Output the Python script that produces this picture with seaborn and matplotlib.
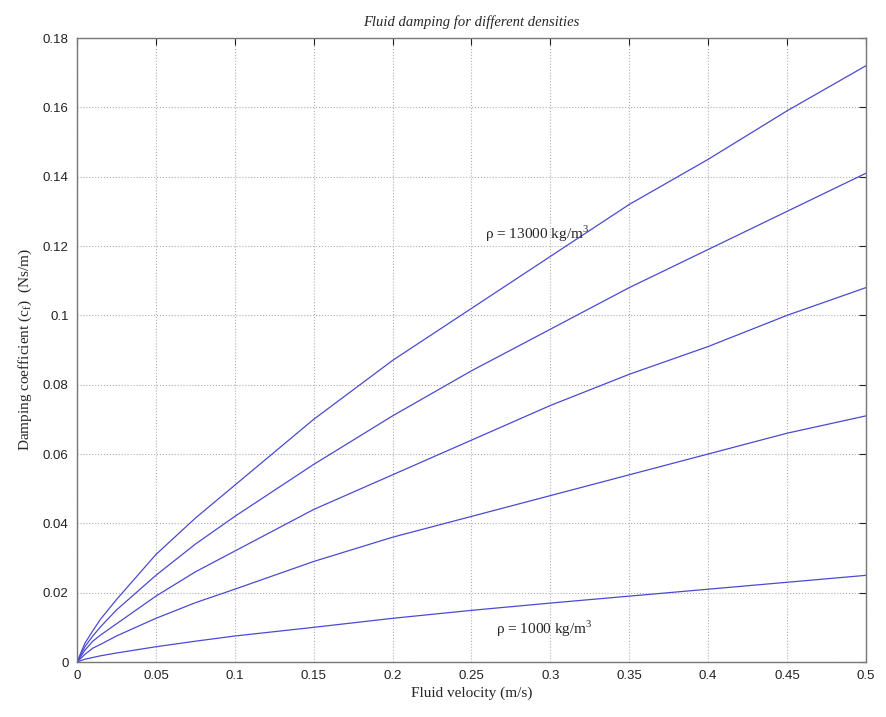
import pandas as pd
import seaborn as sns
import matplotlib.pyplot as plt

# Values (damping coefficient vs fluid velocity)
velocity = [0, 0.005, 0.01, 0.015, 0.025, 0.05, 0.075, 0.1, 0.15, 0.2, 0.25, 0.3, 0.35, 0.4, 0.45, 0.5]
rho_1000 = [0, 0.0008, 0.0013, 0.0018, 0.0026, 0.0044, 0.006, 0.0075, 0.010, 0.0126, 0.0149, 0.017, 0.019, 0.021, 0.023, 0.025]
rho_4000 = [0, 0.0022, 0.004, 0.0051, 0.0075, 0.0126, 0.0171, 0.021, 0.029, 0.036, 0.042, 0.048, 0.054, 0.060, 0.066, 0.071]
rho_7000 = [0, 0.0034, 0.006, 0.0078, 0.011, 0.019, 0.026, 0.032, 0.044, 0.054, 0.064, 0.074, 0.083, 0.091, 0.100, 0.108]
rho_10000 = [0, 0.0044, 0.0075, 0.0102, 0.015, 0.025, 0.034, 0.042, 0.057, 0.071, 0.084, 0.096, 0.108, 0.119, 0.130, 0.141]
rho_13000 = [0, 0.0054, 0.009, 0.0124, 0.018, 0.031, 0.0415, 0.051, 0.070, 0.087, 0.102, 0.117, 0.132, 0.145, 0.159, 0.172]

xticks = [0, 0.05, 0.1, 0.15, 0.2, 0.25, 0.3, 0.35, 0.4, 0.45, 0.5]
xtick_labels = ["0", "0.05", "0.1", "0.15", "0.2", "0.25", "0.3", "0.35", "0.4", "0.45", "0.5"]
yticks = [0, 0.02, 0.04, 0.06, 0.08, 0.1, 0.12, 0.14, 0.16, 0.18]
ytick_labels = ["0", "0.02", "0.04", "0.06", "0.08", "0.1", "0.12", "0.14", "0.16", "0.18"]

# long-form table for seaborn
series = {1000: rho_1000, 4000: rho_4000, 7000: rho_7000, 10000: rho_10000, 13000: rho_13000}
df = pd.concat([pd.DataFrame({"velocity": velocity, "damping": vals, "density": rho})
                for rho, vals in series.items()], ignore_index=True)

sns.set_style("white")
plt.rcParams['font.family'] = ['Liberation Sans', 'DejaVu Sans']

fig = plt.figure(figsize=(8.86, 7.17), dpi=100)
ax = fig.add_axes([0.0869, 0.0767, 0.8905, 0.8703])

sns.lineplot(data=df, x="velocity", y="damping", hue="density",
             palette=["#4a4ad2"] * 5, linewidth=0.9, legend=False, ax=ax)

ax.set_xlim(0, 0.5)
ax.set_ylim(0, 0.18)
ax.set_xticks(xticks)
ax.set_xticklabels(xtick_labels)
ax.set_yticks(yticks)
ax.set_yticklabels(ytick_labels)
ax.tick_params(direction="in", top=True, right=True, length=5, width=0.8,
               labelsize=9.5, colors="#222222", pad=6)
ax.grid(True, linestyle=":", color="#b0b0b0", linewidth=0.8)
for s in ax.spines.values():
    s.set_color("#777777")
    s.set_linewidth(1.0)

serif = ["Liberation Serif", "DejaVu Serif"]
ax.set_title("Fluid damping for different densities", family=serif, style="italic",
             fontsize=10.5, pad=9)
ax.set_xlabel("Fluid velocity (m/s)", family=serif, fontsize=11, labelpad=3)
ax.set_ylabel(r"Damping coefficient (c$_\mathregular{f}$)  (Ns/m)", family=serif,
              fontsize=11, labelpad=6)

ax.text(0.2586, 0.1235, r"ρ = 13000 kg/m$^\mathregular{3}$", family=serif, fontsize=11,
        va="center", ha="left")
ax.text(0.2655, 0.0095, r"ρ = 1000 kg/m$^\mathregular{3}$", family=serif, fontsize=11,
        va="center", ha="left")

fig.savefig("out.png", dpi=100)
